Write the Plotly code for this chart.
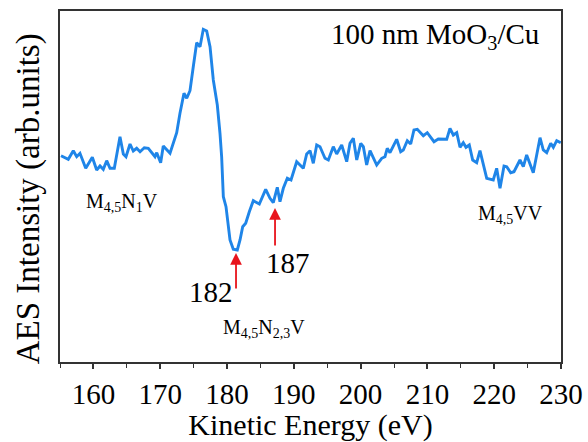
import plotly.graph_objects as go

energy = [155.15, 156.24, 156.99, 157.50, 157.99, 158.85, 159.84, 160.49, 160.99, 161.48,
          161.99, 162.49, 163.13, 163.98, 164.48, 164.88, 165.48, 165.97, 166.48, 166.98,
          167.62, 168.22, 169.22, 169.48, 170.07, 170.46, 171.47, 172.47, 172.96, 173.56,
          173.97, 174.46, 174.95, 175.46, 175.96, 176.45, 176.96, 177.46, 177.95, 178.55,
          178.95, 179.20, 179.45, 179.85, 180.45, 180.94, 181.54, 181.95, 182.35, 182.80,
          183.34, 183.94, 184.84, 185.79, 186.44, 186.93, 187.53, 187.93, 188.43, 189.03,
          189.58, 190.43, 191.42, 191.93, 192.43, 192.92, 193.43, 193.92, 194.67, 195.17,
          195.91, 196.42, 197.17, 197.92, 198.41, 198.91, 199.42, 200.02, 200.41, 200.91,
          201.41, 202.41, 203.16, 203.65, 203.99, 204.40, 205.40, 206.00, 206.39, 206.99,
          207.50, 207.99, 208.49, 209.39, 209.98, 210.99, 211.63, 212.89, 213.38, 213.88,
          214.39, 214.88, 215.37, 215.78, 216.27, 216.78, 217.38, 217.87, 218.88, 219.86,
          220.37, 220.87, 221.47, 221.87, 222.47, 222.96, 223.86, 224.36, 224.86, 225.85,
          226.86, 227.35, 227.86, 228.46, 228.85, 229.36, 229.96]
intensity = [206.3, 202.7, 211.3, 205.3, 208.7, 193.7, 204.7, 192.0, 196.0, 192.7,
             201.3, 193.7, 193.7, 225.3, 208.0, 205.3, 218.0, 211.0, 213.7, 210.3,
             214.3, 213.7, 205.3, 209.3, 199.3, 216.0, 208.7, 229.3, 248.7, 268.7,
             263.7, 271.3, 295.3, 319.3, 315.3, 332.7, 331.0, 315.3, 282.0, 257.0,
             228.7, 205.0, 165.3, 155.3, 122.0, 112.7, 112.0, 122.0, 135.3, 138.7,
             150.3, 161.3, 158.0, 172.7, 163.7, 159.3, 174.7, 160.3, 173.7, 183.7,
             182.0, 200.3, 193.7, 208.0, 211.3, 198.7, 217.0, 215.3, 203.7, 202.0,
             215.3, 208.0, 217.0, 200.3, 218.7, 223.7, 202.0, 218.7, 215.3, 197.0,
             211.3, 197.0, 203.7, 205.3, 213.7, 209.3, 222.7, 210.3, 212.0, 221.3,
             218.0, 232.0, 232.7, 226.3, 229.3, 220.3, 223.0, 222.7, 233.7, 227.0,
             229.3, 214.7, 219.3, 214.7, 217.0, 202.0, 199.3, 211.3, 183.7, 182.0,
             193.7, 173.7, 196.0, 195.3, 189.3, 190.3, 202.0, 195.3, 207.0, 189.3,
             224.3, 212.0, 209.3, 218.7, 214.7, 221.3, 219.3]

x_ticks = [160, 170, 180, 190, 200, 210, 220, 230]
x_minor = [155, 165, 175, 185, 195, 205, 215, 225]

FONT = "Times New Roman, Liberation Serif, serif"

fig = go.Figure()
fig.add_trace(go.Scatter(x=energy, y=intensity, mode="lines",
                         line=dict(color="#1f85e8", width=2.9), showlegend=False))

# text labels
labels = [
    (164.3, 160, "M<sub>4,5</sub>N<sub>1</sub>V", 20),
    (185.5, 34, "M<sub>4,5</sub>N<sub>2,3</sub>V", 20),
    (222.4, 148, "M<sub>4,5</sub>VV", 20),
    (177.6, 70, "182", 29),
    (189.06, 99, "187", 29),
]
for xx, yy, t, s in labels:
    fig.add_annotation(x=xx, y=yy, xref="x", yref="y", text=t, showarrow=False,
                       xanchor="center", yanchor="middle",
                       font=dict(family=FONT, size=s, color="black"))

fig.add_annotation(x=0.748, y=326, xref="paper", yref="y", text="100 nm MoO<sub>3</sub>/Cu",
                   showarrow=False, xanchor="center", yanchor="middle",
                   font=dict(family=FONT, size=29, color="black"))

# red arrows
arrows = [(181.35, 109, 72), (187.19, 154, 115)]
for xx, tip, tail in arrows:
    fig.add_annotation(x=xx, y=tip, ax=xx, ay=tail, xref="x", yref="y", axref="x", ayref="y",
                       text="", showarrow=True, arrowhead=2, arrowsize=1.3, arrowwidth=1.8,
                       arrowcolor="#e8141c")

# y title
fig.add_annotation(x=-0.063, y=0.465, xref="paper", yref="paper", text="AES Intensity (arb.units)",
                   textangle=-90, showarrow=False, xanchor="center", yanchor="middle",
                   font=dict(family=FONT, size=33, color="black"))

fig.update_layout(
    width=588, height=442,
    margin=dict(l=60, r=27, t=11, b=80),
    paper_bgcolor="white", plot_bgcolor="white",
    font=dict(family=FONT, color="black"),
    xaxis=dict(range=[155, 230], tickvals=x_ticks, ticks="outside", ticklen=5, tickwidth=1.5,
               tickcolor="#333", showline=True, linecolor="#333", linewidth=1.5, mirror=True,
               showgrid=False, zeroline=False, tickfont=dict(family=FONT, size=29),
               automargin=False,
               minor=dict(tickvals=x_minor, ticks="outside",
                          ticklen=4, tickwidth=1.2, tickcolor="#333"),
               title=dict(text="Kinetic Energy (eV)", font=dict(family=FONT, size=30), standoff=6)),
    yaxis=dict(range=[0, 351], showticklabels=False, ticks="", showline=True, linecolor="#333",
               linewidth=1.5, mirror=True, showgrid=False, zeroline=False, automargin=False),
)

fig.write_html("out.html")
